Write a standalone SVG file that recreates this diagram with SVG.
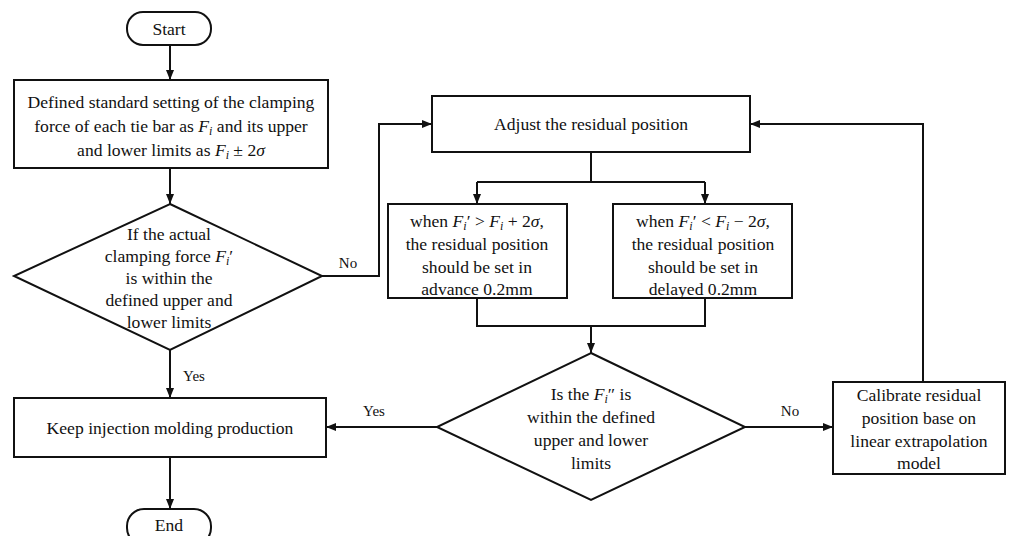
<svg xmlns="http://www.w3.org/2000/svg" width="1014" height="536" viewBox="0 0 1014 536">
<defs>
<marker id="ah" markerUnits="userSpaceOnUse" markerWidth="10" markerHeight="10" viewBox="0 0 10 10" refX="10" refY="5" orient="auto">
<path d="M0,1 L10,5 L0,9 z" fill="#111"/>
</marker>
<style>
.s{fill:#fff;stroke:#111;stroke-width:2}
.c{fill:none;stroke:#111;stroke-width:2}
.t{font-family:"Liberation Serif","Times New Roman",serif;font-size:17.6px;fill:#111;text-anchor:middle}
.l{font-family:"Liberation Serif","Times New Roman",serif;font-size:15px;fill:#111;text-anchor:middle}
.m{font-style:italic}
.sb{font-style:italic;font-size:12px}
</style>
</defs>
<rect width="1014" height="536" fill="#fff"/>
<g id="connectors">
<path class="c" d="M170,45 V80" marker-end="url(#ah)"/>
<path class="c" d="M170,168 V204" marker-end="url(#ah)"/>
<path class="c" d="M322,276 H379 V124 H432" marker-end="url(#ah)"/>
<path class="c" d="M591,152 V182"/>
<path class="c" d="M477,182 H705"/>
<path class="c" d="M477,182 V204" marker-end="url(#ah)"/>
<path class="c" d="M705,182 V204" marker-end="url(#ah)"/>
<path class="c" d="M477,298 V326 H705 V298"/>
<path class="c" d="M591,326 V353" marker-end="url(#ah)"/>
<path class="c" d="M170,350 V398" marker-end="url(#ah)"/>
<path class="c" d="M437,427 H326" marker-end="url(#ah)"/>
<path class="c" d="M745,427 H833" marker-end="url(#ah)"/>
<path class="c" d="M923,382 V124 H750" marker-end="url(#ah)"/>
<path class="c" d="M170,457 V509" marker-end="url(#ah)"/>
<text class="l" x="348" y="268">No</text>
<text class="l" x="194" y="381">Yes</text>
<text class="l" x="374" y="416">Yes</text>
<text class="l" x="790" y="416">No</text>
</g>
<g id="start">
<rect class="s" x="127" y="12" width="84" height="33" rx="16"/>
<text class="t" x="169" y="35">Start</text>
</g>
<g id="define">
<rect class="s" x="14" y="80" width="314" height="88"/>
<text class="t" x="171" y="108">Defined standard setting of the clamping</text>
<text class="t" x="171" y="132">force of each tie bar as <tspan class="m">F</tspan><tspan class="sb" dy="3">i</tspan><tspan dy="-3"> and its upper</tspan></text>
<text class="t" x="171" y="156">and lower limits as <tspan class="m">F</tspan><tspan class="sb" dy="3">i</tspan><tspan dy="-3"> ± 2</tspan><tspan class="m">σ</tspan></text>
</g>
<g id="check1">
<polygon class="s" points="170,204 322,276 170,350 14,276"/>
<text class="t" x="169" y="240">If the actual</text>
<text class="t" x="169" y="262">clamping force <tspan class="m">F</tspan><tspan class="sb" dy="3">i</tspan><tspan dy="-3">′</tspan></text>
<text class="t" x="169" y="284">is within the</text>
<text class="t" x="169" y="306">defined upper and</text>
<text class="t" x="169" y="328">lower limits</text>
</g>
<g id="adjust">
<rect class="s" x="432" y="96" width="318" height="56"/>
<text class="t" x="591" y="130">Adjust the residual position</text>
</g>
<g id="advance">
<rect class="s" x="388" y="204" width="179" height="94"/>
<text class="t" x="477" y="227">when <tspan class="m">F</tspan><tspan class="sb" dy="3">i</tspan><tspan dy="-3">′ &gt; </tspan><tspan class="m">F</tspan><tspan class="sb" dy="3">i</tspan><tspan dy="-3"> + 2</tspan><tspan class="m">σ</tspan>,</text>
<text class="t" x="477" y="250">the residual position</text>
<text class="t" x="477" y="273">should be set in</text>
<text class="t" x="477" y="295">advance 0.2mm</text>
</g>
<g id="delay">
<rect class="s" x="613" y="204" width="179" height="94"/>
<text class="t" x="703" y="227">when <tspan class="m">F</tspan><tspan class="sb" dy="3">i</tspan><tspan dy="-3">′ &lt; </tspan><tspan class="m">F</tspan><tspan class="sb" dy="3">i</tspan><tspan dy="-3"> − 2</tspan><tspan class="m">σ</tspan>,</text>
<text class="t" x="703" y="250">the residual position</text>
<text class="t" x="703" y="273">should be set in</text>
<text class="t" x="703" y="295">delayed 0.2mm</text>
</g>
<g id="check2">
<polygon class="s" points="591,353 745,427 591,500 437,427"/>
<text class="t" x="591" y="400">Is the <tspan class="m">F</tspan><tspan class="sb" dy="3">i</tspan><tspan dy="-3">″ is</tspan></text>
<text class="t" x="591" y="423">within the defined</text>
<text class="t" x="591" y="446">upper and lower</text>
<text class="t" x="591" y="469">limits</text>
</g>
<g id="calibrate">
<rect class="s" x="833" y="382" width="172" height="92"/>
<text class="t" x="919" y="401">Calibrate residual</text>
<text class="t" x="919" y="424">position base on</text>
<text class="t" x="919" y="447">linear extrapolation</text>
<text class="t" x="919" y="469">model</text>
</g>
<g id="keep">
<rect class="s" x="14" y="398" width="312" height="59"/>
<text class="t" x="170" y="434">Keep injection molding production</text>
</g>
<g id="end">
<rect class="s" x="127" y="509" width="84" height="36" rx="17"/>
<text class="t" x="169" y="531">End</text>
</g>
</svg>
